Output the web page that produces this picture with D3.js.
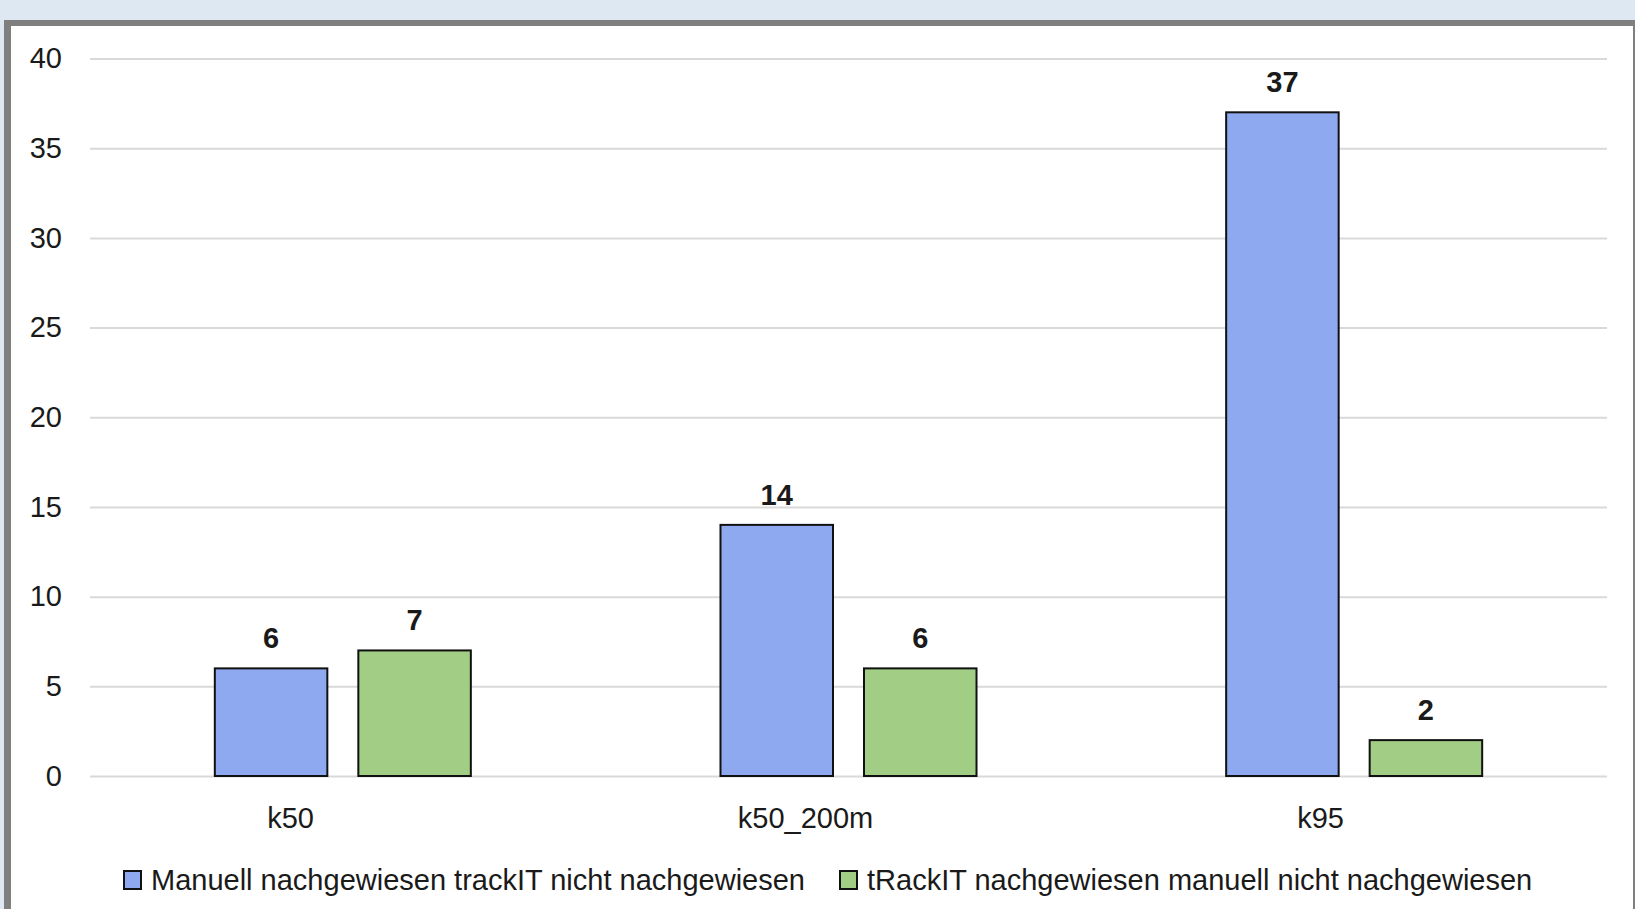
<!DOCTYPE html>
<html>
<head>
<meta charset="utf-8">
<script src="https://cdn.jsdelivr.net/npm/d3@7"></script>
<style>
  body { margin: 0; background: #dde8f3; }
  svg { display: block; font-family: "Liberation Sans", Arial, sans-serif; }
</style>
</head>
<body>
<div id="chart"></div>
<script>
const categories = ['k50', 'k50_200m', 'k95'];
const seriesNames = [
  'Manuell nachgewiesen trackIT nicht nachgewiesen',
  'tRackIT nachgewiesen manuell nicht nachgewiesen'
];
const manuellValues = [6, 14, 37];
const trackitValues = [7, 6, 2];
const yTicks = [0, 5, 10, 15, 20, 25, 30, 35, 40];
const colors = ['#8fa9f1', '#a1cd85'];

const width = 1635;
const height = 909;
const margin = { top: 58.5, right: 28, bottom: 133, left: 90 };

const svg = d3.select('#chart')
  .append('svg')
  .attr('width', width)
  .attr('height', height);

// frame: light blue outside, grey border, white panel
svg.append('rect').attr('width', width).attr('height', height).attr('fill', '#dde8f3');
svg.append('rect').attr('x', 4).attr('y', 20).attr('width', 1631).attr('height', 900).attr('fill', '#7f7f7f');
svg.append('rect').attr('x', 11).attr('y', 26).attr('width', 1622).attr('height', 900).attr('fill', '#ffffff');

const x0 = d3.scaleBand()
  .domain(categories)
  .range([margin.left, width - margin.right])
  .paddingInner(0.4937)
  .paddingOuter(0.4937 / 2);

const x1 = d3.scaleBand()
  .domain([0, 1])
  .range([0, x0.bandwidth()])
  .paddingInner(0.216);

const y = d3.scaleLinear()
  .domain([0, 40])
  .range([height - margin.bottom, margin.top]);

// grid + y labels
const yAxis = svg.append('g')
  .attr('transform', `translate(${margin.left},0)`)
  .call(d3.axisLeft(y)
    .tickValues(yTicks)
    .tickSizeInner(-(width - margin.left - margin.right))
    .tickSizeOuter(0)
    .tickPadding(28));
yAxis.select('.domain').remove();
yAxis.selectAll('line').attr('stroke', '#d9d9d9').attr('stroke-width', 2);
yAxis.selectAll('text').attr('fill', '#1a1a1a').style('font-size', '29px');

// bars
const rows = categories.map((c, i) => ({ cat: c, values: [manuellValues[i], trackitValues[i]] }));

const groups = svg.selectAll('g.group')
  .data(rows)
  .join('g')
  .attr('class', 'group')
  .attr('transform', d => `translate(${x0(d.cat)},0)`);

groups.selectAll('rect')
  .data(d => d.values.map((v, k) => ({ k, v })))
  .join('rect')
  .attr('x', d => x1(d.k))
  .attr('y', d => y(d.v))
  .attr('width', x1.bandwidth())
  .attr('height', d => y(0) - y(d.v))
  .attr('fill', d => colors[d.k])
  .attr('stroke', '#111')
  .attr('stroke-width', 2);

groups.selectAll('text.val')
  .data(d => d.values.map((v, k) => ({ k, v })))
  .join('text')
  .attr('class', 'val')
  .attr('x', d => x1(d.k) + x1.bandwidth() / 2)
  .attr('y', d => y(d.v) - 20)
  .attr('text-anchor', 'middle')
  .attr('fill', '#1a1a1a')
  .style('font-size', '29px')
  .style('font-weight', 'bold')
  .text(d => d.v);

// category labels (sit a bit left of the groups in the original)
const xLabel = x0.copy().range([33, 1578]).padding(0);
const xAxis = svg.append('g')
  .attr('transform', `translate(0,${y(0)})`)
  .call(d3.axisBottom(xLabel).tickSize(0).tickPadding(31));
xAxis.select('.domain').remove();
xAxis.selectAll('text').attr('fill', '#1a1a1a').style('font-size', '29px');

// legend
const legendX = [124, 840];
const legend = svg.selectAll('g.legend')
  .data(seriesNames)
  .join('g')
  .attr('class', 'legend')
  .attr('transform', (d, i) => `translate(${legendX[i]},871)`);

legend.append('rect')
  .attr('width', 17)
  .attr('height', 18)
  .attr('fill', (d, i) => colors[i])
  .attr('stroke', '#111')
  .attr('stroke-width', 2);

legend.append('text')
  .attr('x', 27)
  .attr('y', 9)
  .attr('dy', '0.35em')
  .attr('fill', '#1a1a1a')
  .style('font-size', '29px')
  .text(d => d);
</script>
</body>
</html>
